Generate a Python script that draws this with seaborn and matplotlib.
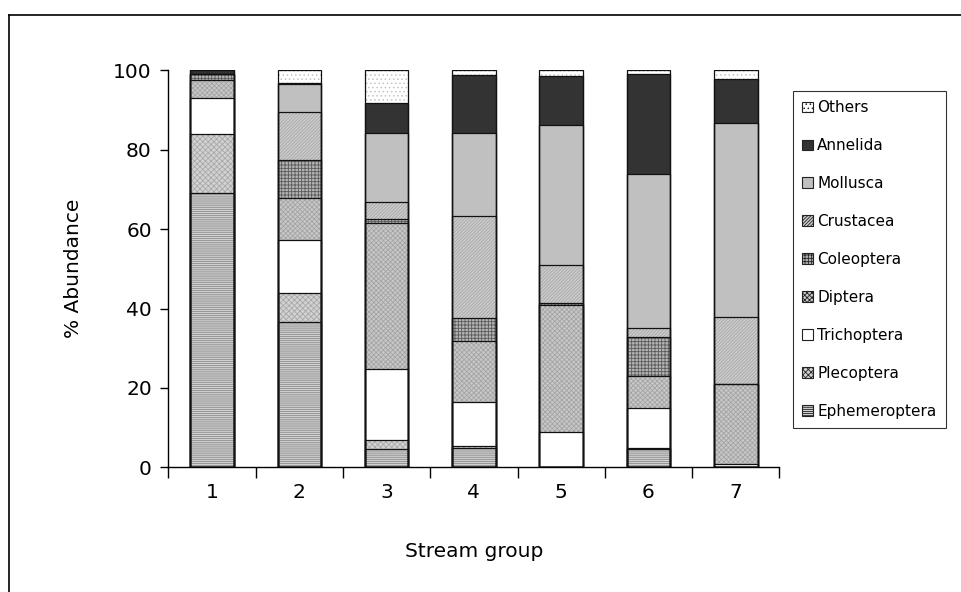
import pandas as pd
import matplotlib.pyplot as plt
import seaborn as sns
from matplotlib.patches import Patch
from matplotlib.lines import Line2D

# % abundance of each taxon per stream group
groups = ['1', '2', '3', '4', '5', '6', '7']
taxa = ['Ephemeroptera', 'Plecoptera', 'Trichoptera', 'Diptera', 'Coleoptera',
        'Crustacea', 'Mollusca', 'Annelida', 'Others']
ephemeroptera = [69.1, 36.5, 4.7, 5.0, 0.2, 4.7, 0.0]
plecoptera = [14.9, 7.5, 2.3, 0.4, 0.0, 0.3, 0.0]
trichoptera = [8.9, 13.3, 17.7, 11.0, 8.7, 10.0, 0.9]
diptera = [4.7, 10.4, 36.9, 15.5, 32.1, 8.1, 20.2]
coleoptera = [1.4, 9.7, 1.0, 5.6, 0.5, 9.7, 0.0]
crustacea = [0.0, 12.2, 4.2, 25.8, 9.4, 2.3, 16.8]
mollusca = [0.0, 7.0, 17.4, 20.9, 35.2, 38.7, 48.7]
annelida = [1.0, 0.3, 7.6, 14.5, 12.4, 25.2, 11.1]
others = [0.0, 3.1, 8.2, 1.3, 1.5, 1.0, 2.3]

series = [ephemeroptera, plecoptera, trichoptera, diptera, coleoptera,
          crustacea, mollusca, annelida, others]

# fill colour, hatch pattern, hatch colour for each taxon
styles = {
    'Ephemeroptera': ('#d0d0d0', '--------', '#8c8c8c'),
    'Plecoptera':    ('#d2d2d2', 'xxxxxx', '#a8a8a8'),
    'Trichoptera':   ('#ffffff', '', '#ffffff'),
    'Diptera':       ('#c8c8c8', 'xxxxxxx', '#a4a4a4'),
    'Coleoptera':    ('#b4b4b4', '+++++', '#5a5a5a'),
    'Crustacea':     ('#cccccc', '//////////', '#a6a6a6'),
    'Mollusca':      ('#c0c0c0', '', '#c0c0c0'),
    'Annelida':      ('#333333', '', '#333333'),
    'Others':        ('#ffffff', '....', '#c4c4c4'),
}

rows = []
for taxon, vals in zip(taxa, series):
    for g, v in zip(groups, vals):
        rows.append({'group': g, 'taxon': taxon, 'value': v})
df = pd.DataFrame(rows)
df['taxon'] = pd.Categorical(df['taxon'], categories=taxa, ordered=True)
df = df.sort_values(['group', 'taxon'])
df['cum'] = df.groupby('group')['value'].cumsum()

plt.rcParams['font.family'] = ['DejaVu Sans']
plt.rcParams['hatch.linewidth'] = 0.6

fig = plt.figure(figsize=(9.61, 5.92), dpi=100)
ax = fig.add_axes([0.1753, 0.2105, 0.6357, 0.6709])

# stacked bars: draw cumulative heights from the top layer down
for taxon in reversed(taxa):
    sub = df[df['taxon'] == taxon]
    face, hatch, hcol = styles[taxon]
    sns.barplot(data=sub, x='group', y='cum', order=groups, color=face,
                saturation=1, width=0.5, errorbar=None, hatch=hatch,
                edgecolor=hcol, linewidth=0, ax=ax)
# black outlines of every segment
for taxon in reversed(taxa):
    sub = df[df['taxon'] == taxon]
    sns.barplot(data=sub, x='group', y='cum', order=groups, fill=False,
                width=0.5, errorbar=None, edgecolor='#111111', linewidth=0.9, ax=ax)

ax.set_xlim(-0.5, 6.5)
ax.set_ylim(0, 100)
ax.set_yticks([0, 20, 40, 60, 80, 100])
ax.set_xticks(range(7))
ax.set_xticklabels(groups)
ax.set_xticks([i + 0.5 for i in range(-1, 7)], minor=True)
ax.tick_params(axis='x', which='major', length=0, pad=11, labelsize=14.5)
ax.tick_params(axis='x', which='minor', length=8, width=1, direction='out')
ax.tick_params(axis='y', length=6, width=1, pad=6, labelsize=14.5)
for side in ['top', 'right']:
    ax.spines[side].set_visible(False)
for side in ['left', 'bottom']:
    ax.spines[side].set_linewidth(1.0)
    ax.spines[side].set_color('black')
ax.set_xlabel('Stream group', fontsize=14.5, labelpad=29)
ax.set_ylabel('% Abundance', fontsize=14.5, labelpad=22)

handles = [Patch(facecolor=styles[t][0], hatch=styles[t][1], edgecolor='#222222',
                 linewidth=0.8, label=t) for t in reversed(taxa)]
leg = fig.legend(handles=handles, loc='upper left', bbox_to_anchor=(0.825, 0.846),
                 fontsize=11, frameon=True, fancybox=False, edgecolor='black',
                 handlelength=0.7, handleheight=0.7, handletextpad=0.3,
                 labelspacing=1.5, borderpad=0.6, borderaxespad=0)
leg.get_frame().set_linewidth(0.8)

# outer chart frame (left and top edges)
fig.add_artist(Line2D([0.009, 0.009], [0, 0.974], color='black', lw=1.2,
                      transform=fig.transFigure))
fig.add_artist(Line2D([0.009, 1.0], [0.974, 0.974], color='black', lw=1.2,
                      transform=fig.transFigure))

fig.savefig('out.png', dpi=100)
